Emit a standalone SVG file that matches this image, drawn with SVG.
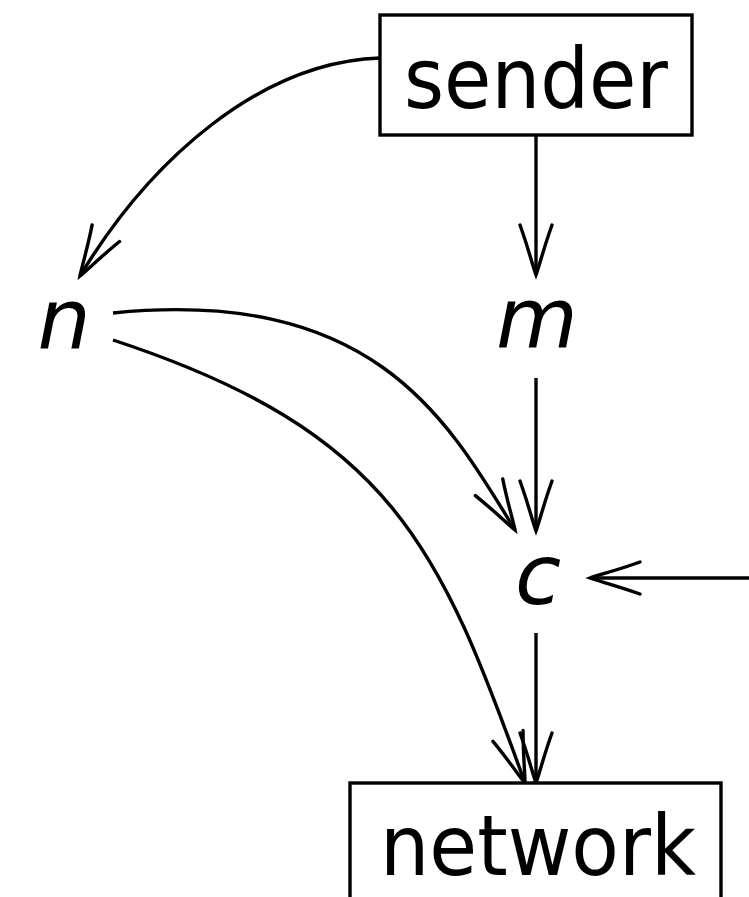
<svg xmlns="http://www.w3.org/2000/svg" width="749" height="897" viewBox="0 0 749 897">
<style>
.box{fill:#fff;stroke:#000;stroke-width:3.4}
.lbl{font-family:"DejaVu Sans",sans-serif;font-size:84px;fill:#000}
.it{font-family:"DejaVu Sans",sans-serif;font-style:italic;font-size:84px;fill:#000}
.edge{fill:none;stroke:#000;stroke-width:3.4;marker-end:url(#to)}
</style>
<defs>
<marker id="to" markerUnits="userSpaceOnUse" viewBox="-54 -20 58 40" refX="0" refY="0" markerWidth="58" markerHeight="40" orient="auto" overflow="visible">
<path d="M -50,-16 C -28,-8 -8,-3 0,0 C -8,3 -28,8 -50,16" fill="none" stroke="#000" stroke-width="3.4" stroke-linecap="round"/>
</marker>
</defs>
<rect width="749" height="897" fill="#fff"/>
<g id="connectors">
<path class="edge" d="M 380,58 C 260,62 150,160 80,276"/>
<path class="edge" d="M 536,135 L 536,275"/>
<path class="edge" d="M 113,313 C 373,287 447,418 515,530"/>
<path class="edge" d="M 536,378 L 536,531"/>
<path class="edge" d="M 749,578 L 590,578"/>
<path class="edge" d="M 113,340 C 393,432 440,548 525,783"/>
<path class="edge" d="M 536,633 L 536,783"/>
</g>
<g id="sender">
<rect class="box" x="380" y="15" width="312" height="120"/>
<text class="lbl" x="404" y="108" textLength="264" lengthAdjust="spacingAndGlyphs">sender</text>
</g>
<g id="n">
<text class="it" x="64" y="348" text-anchor="middle">n</text>
</g>
<g id="m">
<text class="it" x="537" y="347" text-anchor="middle">m</text>
</g>
<g id="c">
<text class="it" x="538" y="604" text-anchor="middle">c</text>
</g>
<g id="network">
<rect class="box" x="350" y="783" width="371" height="150"/>
<text class="lbl" x="380" y="875" textLength="316" lengthAdjust="spacingAndGlyphs">network</text>
</g>
</svg>
